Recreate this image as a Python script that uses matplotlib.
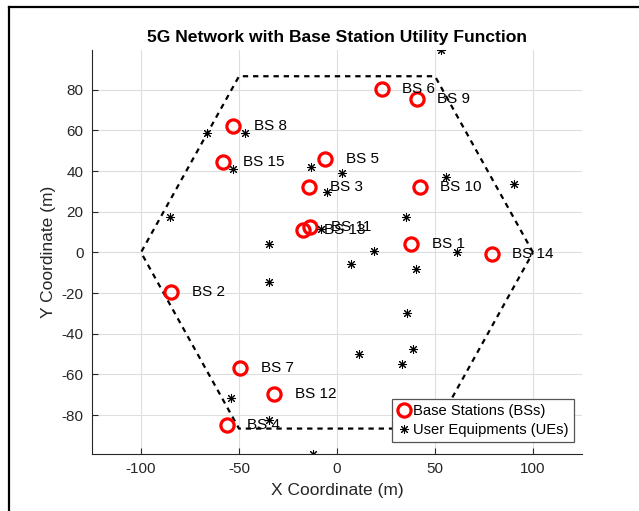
import numpy as np
import matplotlib
matplotlib.use("Agg")
import matplotlib.pyplot as plt
from matplotlib.lines import Line2D

plt.rcParams["font.family"] = ["Liberation Sans", "DejaVu Sans"]
plt.rcParams["axes.unicode_minus"] = False

# base station positions (m), BS 1..15
bs_x = [37.8, -84.7, -14.3, -56.3, -6.1, 22.8, -49.5, -52.9, 40.7, 42.3, -13.8, -32.1, -17.2, 78.9, -58.3]
bs_y = [3.9, -19.3, 32.0, -84.8, 46.0, 80.3, -56.6, 62.3, 75.4, 32.0, 12.4, -69.7, 10.8, -1.0, 44.5]
bs_names = [f"BS {i}" for i in range(1, len(bs_x) + 1)]

# user equipment positions (m)
ue_x = [52.9, -66.2, -46.9, -52.9, -13.3, 2.4, -5.3, 55.6, 90.5, -85.2, 35.0, -8.2, -34.9,
        19.0, 61.1, 7.0, 40.1, -34.9, 35.5, 11.2, 38.9, 33.0, -54.1, -34.7, -12.1]
ue_y = [99.5, 58.8, 58.5, 41.1, 41.9, 39.2, 29.8, 37.0, 33.7, 17.5, 17.4, 11.6, 3.9,
        0.7, 0.2, -5.9, -8.0, -14.6, -30.0, -50.1, -47.7, -54.7, -71.8, -82.3, -99.1]

cell_radius = 100

fig = plt.figure(figsize=(6.39, 5.11), dpi=100)
ax = fig.add_axes([92 / 639, 57 / 511, 490 / 639, 404 / 511])

# hexagonal cell boundary
ang = np.deg2rad(np.arange(0, 361, 60))
ax.plot(cell_radius * np.cos(ang), cell_radius * np.sin(ang), color="black",
        lw=1.6, linestyle=(0, (2.4, 2.2)))

ax.plot(bs_x, bs_y, "o", color="red", mfc="none", ms=9.5, mew=2.3,
        label="Base Stations (BSs)")
ax.plot(ue_x, ue_y, linestyle="none", marker=(8, 2, 0), color="black", ms=6.5, mew=0.75,
        label="User Equipments (UEs)")

for x, y, name in zip(bs_x, bs_y, bs_names):
    ax.text(x + 10.5, y, name, fontsize=11, va="center", ha="left")

ax.set_xlim(-125, 125)
ax.set_ylim(min(ue_y), max(ue_y))
ax.set_xticks([-100, -50, 0, 50, 100])
ax.set_yticks(np.arange(-80, 81, 20))
ax.grid(True, color="#dedede", lw=0.8)
ax.set_axisbelow(True)
ax.tick_params(direction="in", length=4, labelsize=11, colors="#262626", pad=6)
for s in ["top", "right"]:
    ax.spines[s].set_visible(False)
for s in ["left", "bottom"]:
    ax.spines[s].set_color("#262626")
    ax.spines[s].set_linewidth(0.8)

ax.set_xlabel("X Coordinate (m)", fontsize=12.5, color="#262626", labelpad=5)
ax.set_ylabel("Y Coordinate (m)", fontsize=12.5, color="#262626", labelpad=4)
ax.set_title("5G Network with Base Station Utility Function", fontsize=12.6,
             fontweight="bold", pad=6)

leg = ax.legend(loc="lower right", bbox_to_anchor=(0.9837, 0.0297), borderaxespad=0,
                fontsize=10.6, fancybox=False, framealpha=1, edgecolor="#555555",
                handlelength=0.9, handletextpad=0.2, borderpad=0.35, labelspacing=0.3)
leg.get_frame().set_linewidth(0.9)

# window frame
fig.add_artist(Line2D([9 / 639, 9 / 639], [0, 1 - 7 / 511], color="black", lw=1.6))
fig.add_artist(Line2D([9 / 639, 1], [1 - 7 / 511, 1 - 7 / 511], color="black", lw=1.6))

fig.savefig("out.png", dpi=100)
